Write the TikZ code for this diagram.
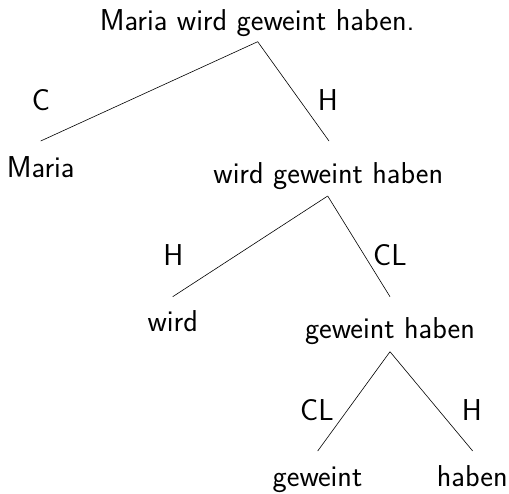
\documentclass[tikz,border=0pt]{standalone}
\renewcommand{\familydefault}{\sfdefault}
\begin{document}
\begin{tikzpicture}[x=1pt,y=-1pt,
  word/.style={anchor=base,inner sep=0pt,font=\fontsize{30.2}{36}\selectfont\sffamily},
  lbl/.style={anchor=base,inner sep=0pt,font=\fontsize{30.2}{36}\selectfont\sffamily},
  edge/.style={draw=black,line width=0.6pt}]
\useasboundingbox (0,0) rectangle (509,493);
% words
\node[word] (root) at (257.2,30) {Maria wird geweint haben.};
\node[word] (maria) at (40.7,177.7) {Maria};
\node[word] (wgh) at (328.3,183.3) {wird geweint haben};
\node[word] (wird) at (172.7,331.7) {wird};
\node[word] (gh) at (390,338) {geweint haben};
\node[word] (gew) at (317.5,486.7) {geweint};
\node[word] (hab) at (472.2,486.7) {haben};
% edge anchors
\coordinate (root-b) at (257.7,41.7);
\coordinate (maria-t) at (40.7,141);
\coordinate (wgh-t) at (329,141);
\coordinate (wgh-b) at (327.7,196);
\coordinate (wird-t) at (172.7,296.7);
\coordinate (gh-t) at (390,296.7);
\coordinate (gh-b) at (390,351.7);
\coordinate (gew-t) at (317.7,451);
\coordinate (hab-t) at (472.7,451);
% edges
\draw[edge] (root-b) -- (maria-t);
\draw[edge] (root-b) -- (wgh-t);
\draw[edge] (wgh-b) -- (wird-t);
\draw[edge] (wgh-b) -- (gh-t);
\draw[edge] (gh-b) -- (gew-t);
\draw[edge] (gh-b) -- (hab-t);
% labels
\node[lbl] (lc) at (41,110) {C};
\node[lbl] (lh1) at (328,110) {H};
\node[lbl] (lh2) at (173.5,265) {H};
\node[lbl] (lcl1) at (390,265) {CL};
\node[lbl] (lcl2) at (317,420) {CL};
\node[lbl] (lh3) at (472,420) {H};
\end{tikzpicture}
\end{document}
